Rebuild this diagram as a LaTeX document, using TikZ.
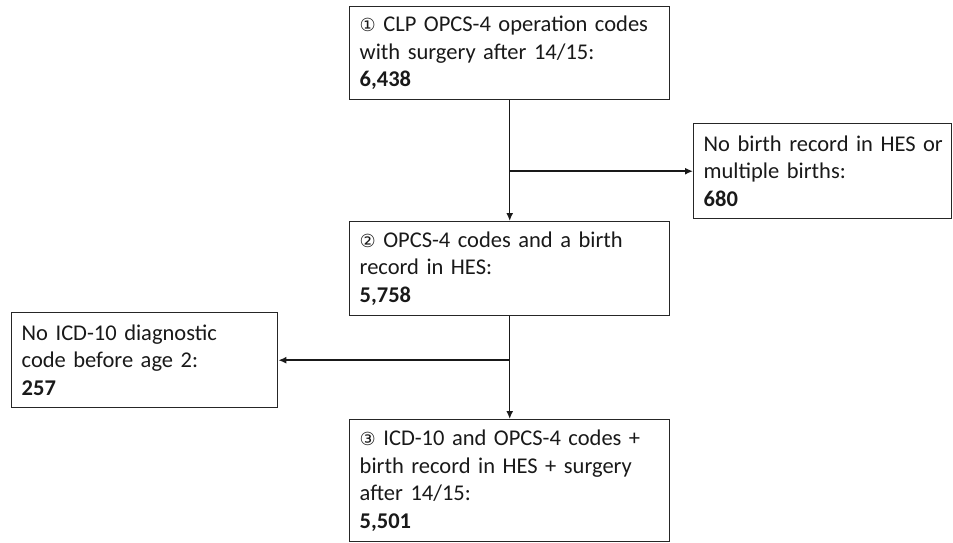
\documentclass[tikz,border=0pt]{standalone}
\usepackage{fontspec}
\setmainfont{Carlito}
\newfontfamily\symfont{DejaVu Sans}[Scale=0.8]
\usetikzlibrary{arrows.meta}
\tikzset{
  box/.style={draw=black!85, line width=1.4pt, anchor=north west, align=left,
    inner xsep=10pt, inner ysep=0pt, font=\fontsize{22.5}{27.5}\selectfont, text=black!90},
  arr/.style={line width=1.5pt, draw=black!90, -{Latex[length=8pt,width=7pt]}},
}
\begin{document}
\begin{tikzpicture}[x=1pt,y=-1pt]
\useasboundingbox (0,0) rectangle (953,542);
\node[box, minimum width=320pt, text width=300pt, minimum height=93pt] (b1) at (349,6)
  {{\symfont ①} CLP OPCS-4 operation codes\\with surgery after 14/15:\\\textbf{6,438}};
\node[box, minimum width=258pt, text width=238pt, minimum height=95pt] (r1) at (693,123)
  {\mbox{No birth record in HES or}\\multiple births:\\\textbf{680}};
\node[box, minimum width=320pt, text width=300pt, minimum height=94pt] (b2) at (349,221)
  {{\symfont ②} OPCS-4 codes and a birth\\record in HES:\\\textbf{5,758}};
\node[box, minimum width=266pt, text width=246pt, minimum height=95pt] (l1) at (11,312)
  {No ICD-10 diagnostic\\code before age 2:\\\textbf{257}};
\node[box, minimum width=320pt, text width=300pt, minimum height=122pt] (b3) at (349,419)
  {{\symfont ③} ICD-10 and OPCS-4 codes +\\birth record in HES + surgery\\after 14/15:\\\textbf{5,501}};
\draw[arr] (b1.south) -- (b2.north);
\draw[arr] (b1.south |- r1.west) -- (r1.west);
\draw[arr] (b2.south) -- (b3.north);
\draw[arr] (b2.south |- l1.east) -- (l1.east);
\end{tikzpicture}
\end{document}
